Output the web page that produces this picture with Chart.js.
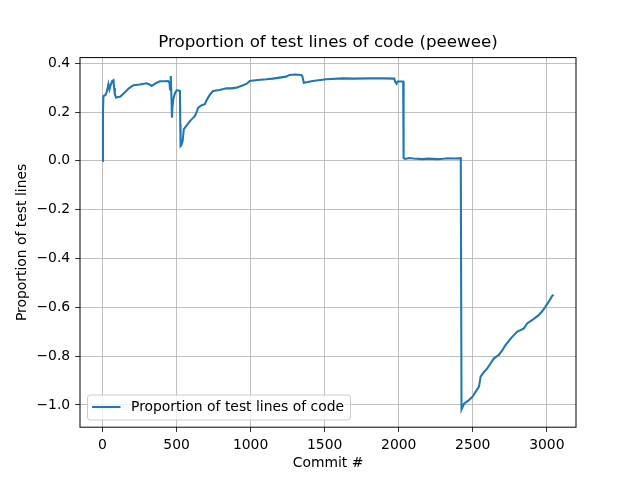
<!DOCTYPE html>
<html>
<head>
<meta charset="utf-8">
<script src="https://cdn.jsdelivr.net/npm/chart.js@4/dist/chart.umd.min.js"></script>
<style>
    html, body { margin: 0; padding: 0; background: #fff; }
    canvas { display: block; }
</style>
</head>
<body>
<canvas id="testLinesChart" width="640" height="480"></canvas>
<script>
// commit numbers and the proportion
const commits = [
    0, 3, 6, 20, 30, 40, 47, 55, 65, 74, 78, 83, 92, 105, 119, 150, 180, 209, 250, 299,
    320, 332, 360, 388, 420, 444, 452, 456, 460, 462, 466, 469, 472, 478, 488, 500, 515, 523, 525, 527,
    533, 541, 549, 557, 575, 590, 610, 624, 635, 646, 670, 691, 700, 713, 730, 747, 790, 837, 870, 904,
    949, 975, 994, 1050, 1106, 1150, 1196, 1240, 1263, 1300, 1342, 1350, 1359, 1420, 1510, 1622, 1700, 1800, 1900, 1970,
    1975, 1985, 1992, 2030, 2033, 2042, 2071, 2100, 2160, 2200, 2260, 2300, 2330, 2380, 2419, 2424, 2441, 2474, 2500, 2519,
    2542, 2553, 2575, 2598, 2620, 2643, 2676, 2700, 2721, 2760, 2799, 2845, 2867, 2910, 2945, 2970, 2990, 3010, 3035, 3045
];
const proportions = [
    0.0, 0.20, 0.265, 0.27, 0.285, 0.314, 0.293, 0.31, 0.327, 0.33, 0.30, 0.273, 0.259, 0.262, 0.263, 0.28, 0.298, 0.31, 0.313, 0.318,
    0.312, 0.307, 0.318, 0.326, 0.326, 0.327, 0.32, 0.293, 0.32, 0.348, 0.25, 0.177, 0.22, 0.252, 0.275, 0.289, 0.288, 0.286, 0.15, 0.061,
    0.065, 0.082, 0.13, 0.136, 0.15, 0.163, 0.175, 0.184, 0.2, 0.218, 0.228, 0.232, 0.245, 0.259, 0.275, 0.286, 0.29, 0.297, 0.297, 0.30,
    0.31, 0.316, 0.327, 0.331, 0.334, 0.337, 0.341, 0.345, 0.352, 0.354, 0.352, 0.345, 0.320, 0.327, 0.334, 0.338, 0.337, 0.338, 0.338, 0.337,
    0.325, 0.316, 0.325, 0.325, 0.012, 0.008, 0.012, 0.010, 0.007, 0.009, 0.007, 0.009, 0.011, 0.010, 0.011, -1.018, -0.995, -0.98, -0.965, -0.946,
    -0.925, -0.884, -0.865, -0.85, -0.83, -0.809, -0.795, -0.775, -0.755, -0.725, -0.70, -0.686, -0.666, -0.648, -0.632, -0.615, -0.598, -0.58, -0.554, -0.548
];
const xTicks = [0, 500, 1000, 1500, 2000, 2500, 3000];
const yTicks = [-1.0, -0.8, -0.6, -0.4, -0.2, 0.0, 0.2, 0.4];

const chartTitle = 'Proportion of test lines of code (peewee)';
const seriesLabel = 'Proportion of test lines of code';

const points = commits.map((c, i) => ({ x: c, y: proportions[i] }));
const FONT = 'DejaVu Sans';

// title over the plot, frame around it, and a matplotlib style legend
const mplDecor = {
    id: 'mplDecor',
    afterDraw(chart) {
        const ctx = chart.ctx;
        const a = chart.chartArea;
        ctx.save();
        ctx.strokeStyle = '#000';
        ctx.lineWidth = 1;
        ctx.strokeRect(a.left, a.top, a.right - a.left, a.bottom - a.top);

        ctx.fillStyle = '#000';
        ctx.font = '16.7px "' + FONT + '"';
        ctx.textAlign = 'center';
        ctx.textBaseline = 'middle';
        ctx.fillText(chartTitle, (a.left + a.right) / 2, 43);

        // legend box
        ctx.font = '13.9px "' + FONT + '"';
        const tw = ctx.measureText(seriesLabel).width;
        const bx = 87.5, by = 395, bw = 44 + tw + 6, bh = 25, r = 3;
        ctx.beginPath();
        ctx.moveTo(bx + r, by);
        ctx.arcTo(bx + bw, by, bx + bw, by + bh, r);
        ctx.arcTo(bx + bw, by + bh, bx, by + bh, r);
        ctx.arcTo(bx, by + bh, bx, by, r);
        ctx.arcTo(bx, by, bx + bw, by, r);
        ctx.closePath();
        ctx.fillStyle = 'rgba(255,255,255,0.8)';
        ctx.fill();
        ctx.strokeStyle = '#cccccc';
        ctx.lineWidth = 1;
        ctx.stroke();

        const ds = chart.data.datasets[0];
        ctx.strokeStyle = ds.borderColor;
        ctx.lineWidth = ds.borderWidth;
        ctx.beginPath();
        ctx.moveTo(92, 407);
        ctx.lineTo(120.5, 407);
        ctx.stroke();

        ctx.fillStyle = '#000';
        ctx.textAlign = 'left';
        ctx.fillText(ds.label, 131, 407.5);
        ctx.restore();
    }
};

const ctx = document.getElementById('testLinesChart').getContext('2d');
const config = {
    type: 'line',
    data: {
        datasets: [{
            label: seriesLabel,
            data: points,
            borderColor: '#1f77b4',
            borderWidth: 2.08,
            pointRadius: 0,
            fill: false,
            tension: 0
        }]
    },
    options: {
        responsive: false,
        animation: false,
        layout: { padding: { left: 0, right: 64, top: 57.6, bottom: 0 } },
        plugins: {
            legend: { display: false },
            title: { display: false },
            tooltip: { enabled: false }
        },
        scales: {
            x: {
                type: 'linear',
                min: -152,
                max: 3197,
                afterBuildTicks: s => { s.ticks = xTicks.map(v => ({ value: v })); },
                afterFit: s => { s.height = 52.8; },
                grid: { color: '#b0b0b0', lineWidth: 0.8, tickColor: '#000', tickLength: 4.86, tickWidth: 0.8 },
                border: { display: false },
                ticks: {
                    color: '#000',
                    font: { family: FONT, size: 13.9 },
                    padding: 4.5,
                    maxRotation: 0,
                    callback: v => String(v)
                },
                title: {
                    display: true,
                    text: 'Commit #',
                    color: '#000',
                    font: { family: FONT, size: 13.9 },
                    padding: { top: 0, bottom: 8.5 }
                }
            },
            y: {
                type: 'linear',
                min: -1.091,
                max: 0.423,
                afterBuildTicks: s => { s.ticks = yTicks.map(v => ({ value: v })); },
                afterFit: s => { s.width = 80; },
                grid: { color: '#b0b0b0', lineWidth: 0.8, tickColor: '#000', tickLength: 4.86, tickWidth: 0.8 },
                border: { display: false },
                ticks: {
                    color: '#000',
                    font: { family: FONT, size: 13.9 },
                    padding: 5,
                    callback: v => v.toFixed(1).replace('-', '\u2212')
                },
                title: {
                    display: true,
                    text: 'Proportion of test lines',
                    color: '#000',
                    font: { family: FONT, size: 13.9 },
                    padding: { top: 14, bottom: 0 }
                }
            }
        }
    },
    plugins: [mplDecor]
};

const testLinesChart = new Chart(ctx, config);
</script>
</body>
</html>
